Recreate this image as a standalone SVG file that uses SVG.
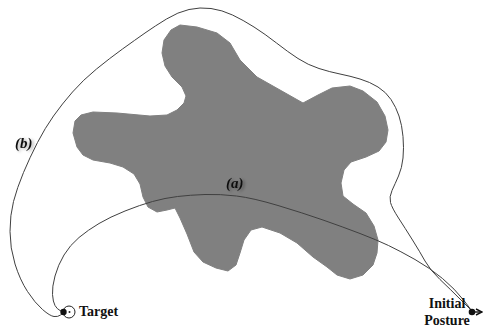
<svg xmlns="http://www.w3.org/2000/svg" width="485" height="331" viewBox="0 0 485 331">
  <style>
    .path { fill: none; stroke: #404040; stroke-width: 1; stroke-linejoin: round; }
    .lbl { font-family: "Liberation Serif", "Times New Roman", serif; font-weight: bold; font-size: 14px; fill: #111; }
    .tag { font-family: "Liberation Serif", "Times New Roman", serif; font-weight: bold; font-style: italic; font-size: 15px; fill: #111; filter: url(#soft); }
  </style>
  <defs>
    <filter id="soft" x="-30%" y="-30%" width="160%" height="160%">
      <feGaussianBlur in="SourceAlpha" stdDeviation="1.6" result="b"/>
      <feOffset in="b" dx="2" dy="1" result="o"/>
      <feComponentTransfer in="o" result="s"><feFuncA type="linear" slope="0.35"/></feComponentTransfer>
      <feMerge><feMergeNode in="s"/><feMergeNode in="SourceGraphic"/></feMerge>
    </filter>
    <marker id="arrow" viewBox="0 0 8 8" refX="7" refY="4" markerWidth="8" markerHeight="8" markerUnits="userSpaceOnUse" orient="auto">
      <path d="M1,1 L7,4 L1,7" fill="none" stroke="#111" stroke-width="1.4"/>
    </marker>
  </defs>

  <!-- obstacle -->
  <g id="obstacle">
    <polygon fill="#808080" stroke="#808080" stroke-width="1" stroke-linejoin="round"
      points="180,25 197,27 217,33 230,43 240,60 257,77 280,90 303,103 318,95 332,88 350,86 363,91 377,102 385,116 388,130 386,142 379,151 366,157 351,162 344,170 341,183 343,196 353,204 366,213 374,226 378,240 377,253 373,265 363,275 350,279 337,275 327,267 313,257 297,243 280,233 262,227 251,230 244,240 240,253 236,265 228,271 216,268 203,262 194,252 187,234 180,218 175,208 167,210 157,212 148,207 143,197 140,184 134,174 123,167 110,163 93,160 83,155 77,147 73,133 75,121 81,115 93,112 117,113 150,116 167,115 177,110 184,103 186,96 182,87 172,77 165,66 162,53 164,40 171,30"/>
  </g>

  <!-- trajectories -->
  <g id="connectors">
    <path id="traj-a" class="path" d="M472,311 L463.5,300 Q455,289 442.5,278.5 Q430,268 415,259.5 Q400,251 388.5,245.5 Q377,240 360,233.5 Q343,227 323,220 Q303,213 278,205.5 Q253,198 236.5,196 Q220,194 205,194.5 Q190,195 177.5,196.5 Q165,198 152.5,201.5 Q140,205 125,211 Q110,217 99,223.5 Q88,230 79,237.5 Q70,245 64,255 Q58,265 55,276 Q52,287 52.5,294.5 Q53,302 55,305.5 Q57,309 60,310.5 L63,312"/>
    <path id="traj-b" class="path" d="M472,311 L461,300 Q450,289 440,279.5 Q430,270 425,261 Q420,252 412.5,240 Q405,228 398.5,218 Q392,208 390.5,202.5 Q389,197 392,190.5 Q395,184 398.5,176 Q402,168 403,158 Q404,148 403,136.5 Q402,125 399,116 Q396,107 391,99.5 Q386,92 378,87 Q370,82 360,79 Q350,76 340,74 Q330,72 319,68.5 Q308,65 298,58.5 Q288,52 276.5,43 Q265,34 254,27 Q243,20 232.5,15 Q222,10 211,8.5 Q200,7 189,9.5 Q178,12 166.5,19 Q155,26 145,33 Q135,40 122.5,49 Q110,58 96.5,69 Q83,80 72.5,92 Q62,104 53.5,116 Q45,128 37.5,142.5 Q30,157 23.5,172.5 Q17,188 13.5,201.5 Q10,215 10,231.5 Q10,248 15,264 Q20,280 27.5,291.5 Q35,303 42.5,309.5 Q50,316 54,316.5 Q58,317 60.5,315 L63,313"/>
    <text class="tag" x="226" y="188">(a)</text>
    <text class="tag" x="15" y="148">(b)</text>
  </g>

  <!-- goal marker -->
  <g id="target">
    <circle cx="69" cy="312" r="6" fill="none" stroke="#222" stroke-width="1"/>
    <circle cx="63.5" cy="312" r="3.2" fill="#111"/>
    <circle cx="69.5" cy="312" r="1" fill="#222"/>
    <text class="lbl" x="79" y="316">Target</text>
  </g>

  <!-- start pose -->
  <g id="initial-posture">
    <line x1="472" y1="312" x2="482" y2="312" stroke="#111" stroke-width="1.4" marker-end="url(#arrow)"/>
    <circle cx="472" cy="312" r="3.3" fill="#111"/>
    <text class="lbl" x="447" y="308" text-anchor="middle">Initial</text>
    <text class="lbl" x="447" y="325" text-anchor="middle">Posture</text>
  </g>
</svg>
